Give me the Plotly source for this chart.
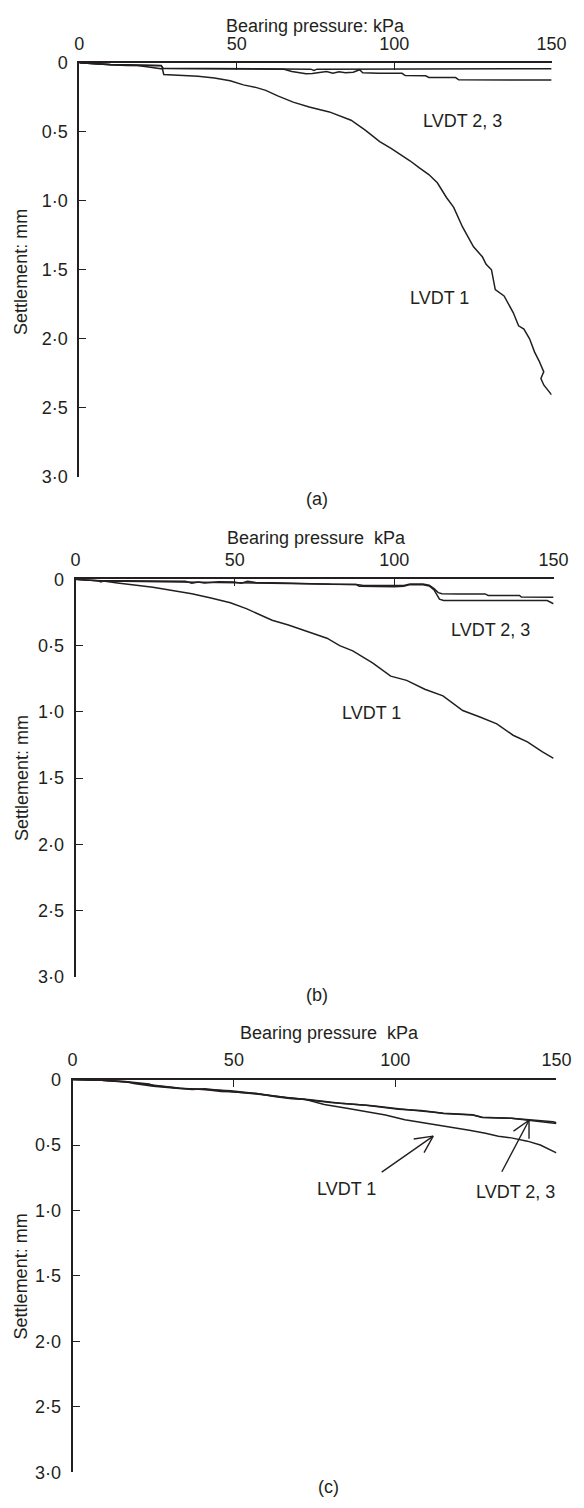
import plotly.graph_objects as go

W, H = 584, 1508
INK = "#231f20"
FONT = "Liberation Sans, Arial, sans-serif"

# ---------------- data (bearing pressure kPa, settlement mm) ----------------
# Panel (a)
a_lvdt1_x = [0, 5, 10, 15, 18.4, 22, 25.5, 26.4, 26.8, 32, 37.7, 42.9, 47.9, 52.1, 56.3, 59.2, 63, 67.9,
             73, 79.4, 83, 86.3, 90.8, 95.4, 99, 102.3, 105, 108, 111, 113.7, 116.6, 118.9, 121.7, 125.2,
             128.0, 129.2, 130.9, 132.1, 134.9, 137.8, 139.5, 141.2, 143, 144.6, 146.0, 147.5, 146.6, 147.5,
             148.8, 150]
a_lvdt1_y = [0, 0.01, 0.015, 0.02, 0.02, 0.03, 0.04, 0.045, 0.085, 0.092, 0.097, 0.11, 0.13, 0.16, 0.18, 0.2,
             0.24, 0.285, 0.32, 0.356, 0.385, 0.416, 0.488, 0.571, 0.62, 0.667, 0.71, 0.762, 0.81, 0.87, 0.976,
             1.048, 1.19, 1.334, 1.406, 1.46, 1.5, 1.644, 1.69, 1.81, 1.906, 1.93, 2.0, 2.097, 2.16, 2.24, 2.288,
             2.335, 2.37, 2.407]
a_lvdt2_x = [0, 5, 10, 15, 20, 26.0, 26.6, 35, 45, 55, 65, 73.5, 74.5, 75.5, 85, 95, 105, 115, 125, 135, 145, 150]
a_lvdt2_y = [0, 0.008, 0.012, 0.015, 0.018, 0.02, 0.04, 0.042, 0.045, 0.045, 0.045, 0.046, 0.056, 0.046, 0.045,
             0.044, 0.045, 0.044, 0.043, 0.044, 0.043, 0.043]
a_lvdt3_x = [0, 5, 10, 15, 20, 26.0, 26.6, 35, 45, 55, 65, 67.5, 70, 72, 74, 76, 78.5, 80.5, 82.5, 84.5, 87, 89,
             90, 95, 102.5, 103.5, 110, 111, 119.5, 120.5, 140, 150]
a_lvdt3_y = [0, 0.01, 0.015, 0.018, 0.02, 0.022, 0.042, 0.044, 0.046, 0.046, 0.047, 0.063, 0.075, 0.08, 0.078,
             0.072, 0.064, 0.076, 0.065, 0.072, 0.069, 0.05, 0.072, 0.075, 0.076, 0.093, 0.094, 0.106, 0.107,
             0.123, 0.124, 0.125]

# Panel (b)
b_lvdt1_x = [0, 8.2, 13.2, 18.3, 24.3, 30.4, 36.5, 42.5, 48.6, 53.6, 57.7, 61.7, 66.8, 72.8, 78.9, 82.9, 87,
             93.2, 98.9, 103.9, 109.6, 115.3, 121.5, 127.1, 132.2, 137.3, 141.8, 146.4, 150]
b_lvdt1_y = [0, 0.01, 0.027, 0.042, 0.06, 0.084, 0.109, 0.141, 0.176, 0.221, 0.265, 0.308, 0.345, 0.395, 0.444,
             0.5, 0.54, 0.63, 0.73, 0.762, 0.829, 0.879, 0.99, 1.04, 1.09, 1.176, 1.226, 1.3, 1.35]
b_lvdt2_x = [0, 5, 7, 8, 9, 15, 25, 34.5, 36.5, 38.5, 40.5, 45, 49.7, 52, 54, 56.7, 62, 70, 72.7, 80, 88, 90, 95,
             100, 103, 105, 109, 111, 112.5, 113.8, 115, 120, 128.5, 129.5, 139.3, 139.9, 150]
b_lvdt2_y = [0, 0.005, 0.01, 0.02, 0.01, 0.01, 0.015, 0.015, 0.03, 0.02, 0.028, 0.018, 0.02, 0.03, 0.015, 0.025,
             0.025, 0.03, 0.035, 0.037, 0.038, 0.045, 0.047, 0.048, 0.046, 0.035, 0.035, 0.045, 0.07, 0.1,
             0.109, 0.11, 0.11, 0.122, 0.122, 0.134, 0.135]
b_lvdt3_x = [0, 5, 8, 15, 25, 35, 45, 55, 62, 70, 72.7, 80, 88, 89, 95, 100, 103, 105, 109, 111, 112.5, 114.2,
             115.5, 130, 140, 148, 150]
b_lvdt3_y = [0, 0.008, 0.012, 0.015, 0.018, 0.022, 0.025, 0.028, 0.03, 0.032, 0.035, 0.036, 0.038, 0.052, 0.055,
             0.055, 0.053, 0.04, 0.04, 0.05, 0.08, 0.15, 0.16, 0.16, 0.16, 0.16, 0.184]

# Panel (c)
c_lvdt1_x = [0, 9, 17, 19, 25, 33, 41, 49, 57, 66, 72, 78, 85, 93, 97, 103, 108, 113, 118, 123, 128, 132, 136,
             141, 145, 149, 150]
c_lvdt1_y = [0, 0.005, 0.017, 0.03, 0.05, 0.068, 0.075, 0.085, 0.106, 0.136, 0.15, 0.19, 0.219, 0.251, 0.27,
             0.306, 0.325, 0.344, 0.365, 0.387, 0.41, 0.432, 0.445, 0.47, 0.5, 0.548, 0.56]
c_lvdt2_x = [0, 9, 17, 23.7, 25, 33, 41, 46, 49, 57, 63, 68, 73, 80, 83, 91, 93, 101, 108, 115, 124, 127, 136,
             149, 150]
c_lvdt2_y = [0, 0.005, 0.017, 0.033, 0.045, 0.065, 0.075, 0.09, 0.092, 0.106, 0.13, 0.146, 0.151, 0.171, 0.181,
             0.196, 0.201, 0.226, 0.236, 0.256, 0.269, 0.289, 0.296, 0.322, 0.33]
c_lvdt3_x = [0, 9, 17, 21, 25, 30, 33, 37, 41, 46, 49, 57, 63, 67, 72, 76, 80, 83, 91, 93, 101, 105, 108, 112,
             115, 124, 127, 136, 149, 150]
c_lvdt3_y = [0, 0.005, 0.02, 0.03, 0.04, 0.055, 0.06, 0.075, 0.07, 0.085, 0.09, 0.11, 0.128, 0.135, 0.155, 0.165,
             0.175, 0.18, 0.195, 0.2, 0.222, 0.23, 0.24, 0.25, 0.258, 0.27, 0.288, 0.295, 0.33, 0.335]

x_ticks = [0, 50, 100, 150]
y_ticks = [0, 0.5, 1.0, 1.5, 2.0, 2.5, 3.0]
y_ticktext = ["0", "0·5", "1·0", "1·5", "2·0", "2·5", "3·0"]
x_title = ["Bearing pressure: kPa", "Bearing pressure  kPa", "Bearing pressure  kPa"]
y_title = "Settlement: mm"
panel_tags = ["(a)", "(b)", "(c)"]

# ---------------- layout geometry (pixels) ----------------
panels = [
    dict(x=(77, 566), y=(53.5, 473), title=(322, 16), tag=(323, 496), ytitle=265,
         series=[(a_lvdt1_x, a_lvdt1_y), (a_lvdt2_x, a_lvdt2_y), (a_lvdt3_x, a_lvdt3_y)]),
    dict(x=(73, 568), y=(577, 980), title=(323, 535), tag=(323, 998), ytitle=778,
         series=[(b_lvdt1_x, b_lvdt1_y), (b_lvdt2_x, b_lvdt2_y), (b_lvdt3_x, b_lvdt3_y)]),
    dict(x=(70, 571), y=(1084, 1482), title=(336, 1037), tag=(335, 1497), ytitle=1283,
         series=[(c_lvdt1_x, c_lvdt1_y), (c_lvdt2_x, c_lvdt2_y), (c_lvdt3_x, c_lvdt3_y)]),
]


def fx(p):
    return p / W


def fy(p):
    return 1 - p / H


fig = go.Figure()
annotations = []
tfont = dict(family=FONT, size=18, color=INK)

for i, p in enumerate(panels):
    n = "" if i == 0 else str(i + 1)
    for sx, sy in p["series"]:
        fig.add_trace(go.Scatter(x=sx, y=sy, mode="lines", xaxis="x" + n, yaxis="y" + n,
                                 line=dict(color=INK, width=1.5), showlegend=False, hoverinfo="skip"))
    fig.layout["xaxis" + n] = dict(
        domain=[fx(p["x"][0]), fx(p["x"][1])], range=[0, 150], side="top", anchor="y" + n,
        showline=True, linewidth=2, linecolor=INK, ticks="inside", ticklen=7, tickwidth=1.2,
        tickcolor=INK, tickvals=x_ticks, showgrid=False, zeroline=False,
        tickfont=tfont, ticklabelstandoff=4)
    fig.layout["yaxis" + n] = dict(
        domain=[fy(p["y"][1]), fy(p["y"][0])], range=[3, 0], anchor="x" + n,
        showline=True, linewidth=2, linecolor=INK, ticks="inside", ticklen=7, tickwidth=1.2,
        tickcolor=INK, tickvals=y_ticks, ticktext=y_ticktext, showgrid=False, zeroline=False,
        tickfont=tfont, ticklabelstandoff=6)
    annotations.append(dict(text=x_title[i], x=fx(p["title"][0]), y=fy(p["title"][1]), xref="paper",
                            yref="paper", showarrow=False, font=tfont, xanchor="center", yanchor="middle"))
    annotations.append(dict(text=panel_tags[i], x=fx(p["tag"][0]), y=fy(p["tag"][1]), xref="paper",
                            yref="paper", showarrow=False, font=tfont, xanchor="center", yanchor="middle"))
    annotations.append(dict(text=y_title, x=fx(17), y=fy(p["ytitle"]), xref="paper", yref="paper",
                            showarrow=False, font=tfont, textangle=-90, xanchor="center", yanchor="middle"))

# curve labels (pixel positions of label centres)
labels = [("LVDT 2, 3", 474, 112), ("LVDT 1", 450, 292),
          ("LVDT 2, 3", 503, 628), ("LVDT 1", 379, 712),
          ("LVDT 1", 354, 1195), ("LVDT 2, 3", 529, 1198)]
for t, lx, ly in labels:
    annotations.append(dict(text=t, x=fx(lx), y=fy(ly), xref="paper", yref="paper", showarrow=False,
                            font=tfont, xanchor="center", yanchor="middle"))

# arrows in panel (c): tip in data coords, shaft and barbs as pixel offsets from the tip
arrow_tips = [(111.8, 0.432), (141.5, 0.31)]
arrow_lines = [[(-53, 37), (-21, 3), (-10, 18)],
               [(-28, 53), (0, 20), (-17, 12)]]
for (tx, ty), segs in zip(arrow_tips, arrow_lines):
    for ax, ay in segs:
        annotations.append(dict(x=tx, y=ty, xref="x3", yref="y3", ax=ax, ay=ay, axref="pixel",
                                ayref="pixel", text="", showarrow=True, arrowhead=0, arrowwidth=1.4,
                                arrowcolor=INK, standoff=0, startstandoff=0))

fig.update_layout(width=W, height=H, margin=dict(l=0, r=0, t=0, b=0), paper_bgcolor="white",
                  plot_bgcolor="white", annotations=annotations, font=tfont)

fig.write_html("out.html")
